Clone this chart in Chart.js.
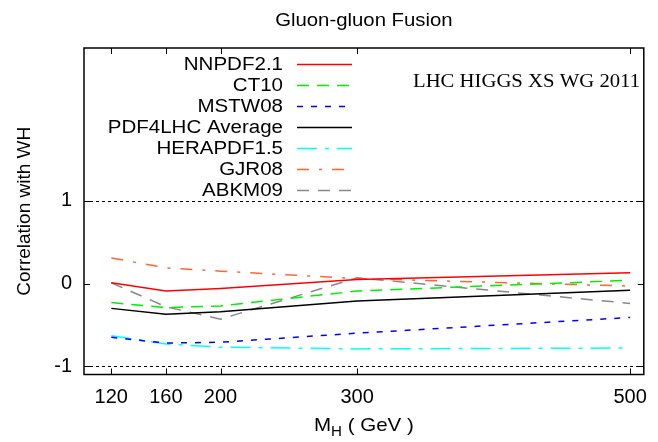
<!DOCTYPE html>
<html>
<head>
<meta charset="utf-8">
<script src="https://cdn.jsdelivr.net/npm/chart.js@4"></script>
<style>
  html, body { margin: 0; padding: 0; background: #fff; }
  #wrap { width: 658px; height: 442px; }
</style>
</head>
<body>
<div id="wrap"><canvas id="stat1" width="658" height="442"></canvas></div>
<script>
// Higgs masses (GeV)
let masses = [120, 160, 200, 300, 500];
let xTicks = [120, 160, 200, 300, 500];
let yTicks = [-1, 0, 1];

// correlation with WH for each PDF set
let nnpdf = [0.01, -0.09, -0.06, 0.05, 0.13];
let ct10 = [-0.23, -0.29, -0.27, -0.09, 0.04];
let mstw = [-0.65, -0.72, -0.71, -0.60, -0.41];
let pdf4lhc = [-0.30, -0.37, -0.34, -0.21, -0.08];
let herapdf = [-0.63, -0.73, -0.77, -0.79, -0.78];
let gjr = [0.31, 0.19, 0.15, 0.06, -0.03];
let abkm = [0.01, -0.28, -0.43, 0.07, -0.24];

let labels = ["NNPDF2.1", "CT10", "MSTW08", "PDF4LHC Average", "HERAPDF1.5", "GJR08", "ABKM09"];
let colors = ['#ff0000', '#00ee00', '#0000ff', '#000000', '#00ffff', '#ff6633', '#888888'];
let dashes = [[], [12, 8], [6, 8], [], [20, 8, 4, 8], [12, 10, 3, 10], [12, 9]];
let series = [nnpdf, ct10, mstw, pdf4lhc, herapdf, gjr, abkm];

let SANS = '"Liberation Sans", Arial, sans-serif';

function make_dataset(i) {
    return {
        label: labels[i],
        data: masses.map(function (m, j) { return {x: m, y: series[i][j]}; }),
        borderColor: colors[i],
        backgroundColor: colors[i],
        borderDash: dashes[i],
        borderWidth: 1.5,
        pointRadius: 0,
        tension: 0,
        fill: false
    };
}

// the gnuplot fonts look a bit wider than Arial, so stretch them horizontally
function stretch_text(ctx, text, x, y, font, align, sx) {
    ctx.save();
    ctx.font = font;
    ctx.textAlign = align;
    ctx.translate(x, y);
    ctx.scale(sx, 1);
    ctx.fillText(text, 0, 0);
    ctx.restore();
}

// frame, inward ticks, dashed lines at +-1, legend, texts
let decor = {
    id: 'decor',
    afterDatasetsDraw: function (chart) {
        let ctx = chart.ctx;
        let a = chart.chartArea;
        let xs = chart.scales.x;
        let ys = chart.scales.y;
        ctx.save();

        ctx.strokeStyle = '#000';
        ctx.lineWidth = 1;
        ctx.setLineDash([3, 3]);
        [1, -1].forEach(function (v) {
            let py = Math.round(ys.getPixelForValue(v)) + 0.5;
            ctx.beginPath();
            ctx.moveTo(a.left, py);
            ctx.lineTo(a.right, py);
            ctx.stroke();
        });
        ctx.setLineDash([]);

        ctx.lineWidth = 1.5;
        ctx.strokeRect(a.left, a.top, a.right - a.left, a.bottom - a.top);

        ctx.lineWidth = 1;
        xTicks.forEach(function (v) {
            let px = Math.round(xs.getPixelForValue(v)) + 0.5;
            ctx.beginPath();
            ctx.moveTo(px, a.bottom); ctx.lineTo(px, a.bottom - 6);
            ctx.moveTo(px, a.top); ctx.lineTo(px, a.top + 6);
            ctx.stroke();
        });
        yTicks.forEach(function (v) {
            let py = Math.round(ys.getPixelForValue(v)) + 0.5;
            ctx.beginPath();
            ctx.moveTo(a.left, py); ctx.lineTo(a.left + 6, py);
            ctx.moveTo(a.right, py); ctx.lineTo(a.right - 6, py);
            ctx.stroke();
        });

        // legend
        ctx.textBaseline = 'middle';
        chart.data.datasets.forEach(function (ds, i) {
            let y = 64.5 + i * 21;
            ctx.fillStyle = '#000';
            stretch_text(ctx, ds.label, 283, y + 1, '18px ' + SANS, 'right', 1.14);
            ctx.strokeStyle = ds.borderColor;
            ctx.lineWidth = 1.5;
            ctx.setLineDash(ds.borderDash);
            ctx.beginPath();
            ctx.moveTo(297, y);
            ctx.lineTo(352, y);
            ctx.stroke();
        });
        ctx.setLineDash([]);

        ctx.fillStyle = '#000';
        ctx.textBaseline = 'alphabetic';
        stretch_text(ctx, 'LHC HIGGS XS WG 2011', 413, 87, '19px "Liberation Serif", "Times New Roman", serif', 'left', 1.09);

        let cx = (a.left + a.right) / 2;
        stretch_text(ctx, 'Gluon-gluon Fusion', cx, 26, '18px ' + SANS, 'center', 1.13);

        // x label M_H ( GeV )
        let sx = 1.08;
        let f1 = '19px ' + SANS;
        let f2 = '14px ' + SANS;
        ctx.font = f1;
        let wM = ctx.measureText('M').width * sx;
        let wRest = ctx.measureText(' ( GeV )').width * sx;
        ctx.font = f2;
        let wH = ctx.measureText('H').width * sx;
        let x0 = cx - (wM + wH + wRest) / 2;
        stretch_text(ctx, 'M', x0, 431, f1, 'left', sx);
        stretch_text(ctx, 'H', x0 + wM, 436, f2, 'left', sx);
        stretch_text(ctx, ' ( GeV )', x0 + wM + wH, 431, f1, 'left', sx);

        // y label
        ctx.save();
        ctx.translate(30, (a.top + a.bottom) / 2);
        ctx.rotate(-Math.PI / 2);
        ctx.textAlign = 'center';
        ctx.font = f1;
        ctx.fillText('Correlation with WH', 0, 0);
        ctx.restore();

        ctx.restore();
    }
};

function make_chart() {
    let ctx = document.getElementById("stat1").getContext("2d");
    new Chart(ctx, {
        type: 'line',
        data: {
            datasets: labels.map(function (l, i) { return make_dataset(i); })
        },
        options: {
            responsive: false,
            animation: false,
            layout: {padding: {top: 48, right: 7, left: 0, bottom: 0}},
            plugins: {
                legend: {display: false},
                title: {display: false},
                tooltip: {enabled: false}
            },
            scales: {
                x: {
                    type: 'linear',
                    min: 100,
                    max: 510,
                    grid: {display: false, drawTicks: false},
                    border: {display: false},
                    afterBuildTicks: function (s) { s.ticks = xTicks.map(function (v) { return {value: v}; }); },
                    afterFit: function (s) { s.height = 67.5; },
                    ticks: {
                        color: '#000',
                        padding: 11,
                        maxRotation: 0,
                        autoSkip: false,
                        font: {family: SANS, size: 20}
                    }
                },
                y: {
                    min: -1.1,
                    max: 2.85,
                    grid: {display: false, drawTicks: false},
                    border: {display: false},
                    afterBuildTicks: function (s) { s.ticks = yTicks.map(function (v) { return {value: v}; }); },
                    afterFit: function (s) { s.width = 84; },
                    ticks: {
                        color: '#000',
                        padding: 12,
                        font: {family: SANS, size: 20}
                    }
                }
            }
        },
        plugins: [decor]
    });
}

document.addEventListener('DOMContentLoaded', function () {
    make_chart();
});
</script>
</body>
</html>
